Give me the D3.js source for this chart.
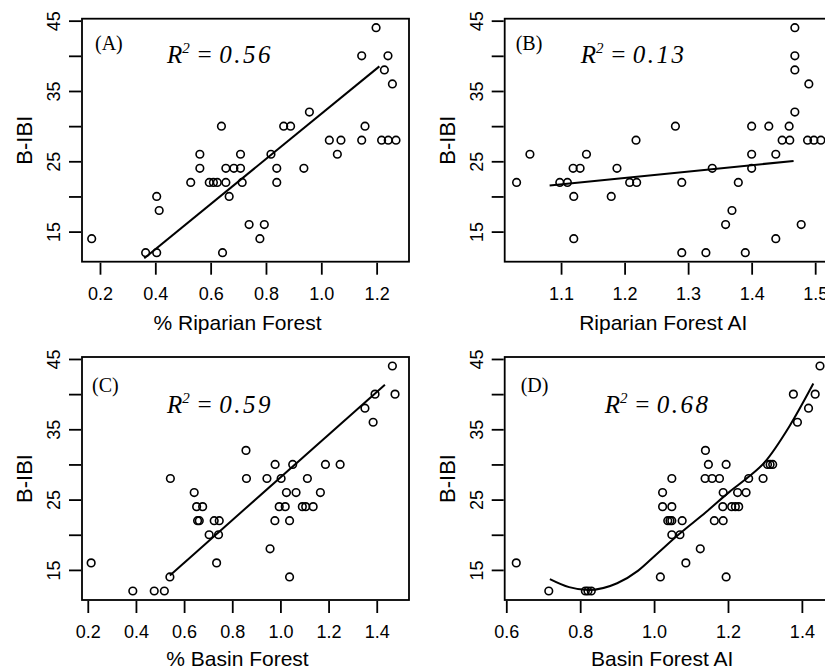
<!DOCTYPE html>
<html>
<head>
<meta charset="utf-8">
<script src="https://cdn.jsdelivr.net/npm/d3@7"></script>
<style>
  html, body { margin: 0; padding: 0; background: #fff; }
  svg { display: block; }
</style>
</head>
<body>
<svg id="chart" width="825" height="669"></svg>
<script>
// ---------------- DATA ----------------
const yTickValues = [15, 20, 25, 30, 35, 40, 45];
const yTickLabels = ["15", "", "25", "", "35", "", "45"];

// Panel A : % Riparian Forest
const xA = [0.17,0.365,0.405,0.405,0.414,0.528,0.561,0.561,0.595,0.61,0.624,0.639,0.643,0.655,0.655,0.667,0.684,0.708,0.708,0.714,0.739,0.778,0.794,0.818,0.839,0.839,0.864,0.889,0.937,0.957,1.029,1.058,1.071,1.146,1.146,1.158,1.198,1.218,1.228,1.241,1.242,1.257,1.27];
const yA = [14,12,12,20,18,22,26,24,22,22,22,30,12,24,22,20,24,26,24,22,16,14,16,26,24,22,30,30,24,32,28,26,28,40,28,30,44,28,38,40,28,36,28];
const fitAx = [0.36, 1.21];
const fitAy = [11.2, 38.5];
const ticksA = [0.2, 0.4, 0.6, 0.8, 1.0, 1.2];

// Panel B : Riparian Forest AI
const xB = [1.030,1.051,1.098,1.110,1.119,1.120,1.120,1.130,1.140,1.179,1.188,1.208,1.219,1.218,1.280,1.290,1.290,1.328,1.338,1.359,1.369,1.379,1.390,1.400,1.400,1.400,1.427,1.438,1.438,1.448,1.459,1.460,1.468,1.468,1.468,1.468,1.478,1.490,1.488,1.498,1.509];
const yB = [22,26,22,22,24,20,14,24,26,20,24,22,22,28,30,22,12,12,24,16,18,22,12,30,26,24,30,26,14,28,30,28,44,40,38,32,16,36,28,28,28];
const fitBx = [1.082, 1.466];
const fitBy = [21.55, 25.05];
const ticksB = [1.1, 1.2, 1.3, 1.4, 1.5];

// Panel C : % Basin Forest
const xC = [0.214,0.387,0.476,0.518,0.541,0.543,0.642,0.652,0.656,0.663,0.677,0.704,0.725,0.735,0.743,0.746,0.857,0.859,0.944,0.957,0.977,0.978,0.995,1.003,1.020,1.025,1.038,1.038,1.051,1.065,1.091,1.105,1.112,1.136,1.166,1.187,1.248,1.351,1.385,1.393,1.465,1.476];
const yC = [16,12,12,12,14,28,26,24,22,22,24,20,22,16,20,22,32,28,28,18,22,30,24,28,24,26,22,14,30,26,24,24,28,24,26,30,30,38,36,40,44,40];
const fitCx = [0.541, 1.434];
const fitCy = [14.2, 41.35];
const ticksC = [0.2, 0.4, 0.6, 0.8, 1.0, 1.2, 1.4];

// Panel D : Basin Forest AI
const xD = [0.627,0.715,0.814,0.821,0.830,1.017,1.023,1.023,1.037,1.043,1.048,1.048,1.048,1.048,1.070,1.076,1.086,1.125,1.139,1.147,1.138,1.157,1.177,1.163,1.187,1.187,1.186,1.195,1.195,1.210,1.220,1.226,1.229,1.249,1.256,1.295,1.307,1.314,1.321,1.377,1.388,1.418,1.436,1.449];
const yD = [16,12,12,12,12,14,26,24,22,22,28,24,22,20,20,22,16,18,32,30,28,28,28,22,22,26,24,30,14,24,24,26,24,26,28,28,30,30,30,40,36,38,40,44];
const fitDx = [0.718, 0.77, 0.822, 0.9, 0.957, 1.006, 1.068, 1.14, 1.204, 1.255, 1.299, 1.366, 1.431];
const fitDy = [13.7, 12.55, 12.14, 13.1, 14.9, 17.2, 20.1, 23.2, 26.1, 28.2, 30.3, 35.4, 41.5];
const ticksD = [0.6, 0.8, 1.0, 1.2, 1.4];

const xTitles = ["% Riparian Forest", "Riparian Forest AI", "% Basin Forest", "Basin Forest AI"];
const panelLabels = ["(A)", "(B)", "(C)", "(D)"];
const r2Values = ["0.56", "0.13", "0.59", "0.68"];
const yTitle = "B-IBI";

// ---------------- LAYOUT ----------------
const W = 327, H = 243;
const panels = [
  { left: 82,    top: 18.7, xDom: [0.135, 1.317],  xs: xA, ys: yA, fx: fitAx, fy: fitAy, ticks: ticksA, curve: false, lab: [13, 31], r2: [85, 44], titleOff: -8, titleY: 68 },
  { left: 504.7, top: 18.7, xDom: [1.0113, 1.526], xs: xB, ys: yB, fx: fitBx, fy: fitBy, ticks: ticksB, curve: false, lab: [11, 31], r2: [76, 44], titleOff: -5, titleY: 68 },
  { left: 82,    top: 357,  xDom: [0.176, 1.534],  xs: xC, ys: yC, fx: fitCx, fy: fitCy, ticks: ticksC, curve: false, lab: [10, 35], r2: [85, 56], titleOff: -8, titleY: 66 },
  { left: 504.7, top: 357,  xDom: [0.5957, 1.4807],xs: xD, ys: yD, fx: fitDx, fy: fitDy, ticks: ticksD, curve: true,  lab: [16, 35], r2: [100, 56], titleOff: -6, titleY: 66 }
];

const svg = d3.select("#chart");
svg.append("rect").attr("width", 825).attr("height", 669).attr("fill", "#fff");

const SANS = "'Liberation Sans', Arial, sans-serif";
const SERIF = "'Liberation Serif', 'Times New Roman', serif";

panels.forEach((p, i) => {
  const x = d3.scaleLinear().domain(p.xDom).range([p.left, p.left + W]);
  const y = d3.scaleLinear().domain([10.72, 45.28]).range([p.top + H, p.top]);
  const g = svg.append("g");

  // x axis
  const xa = g.append("g")
    .attr("transform", `translate(0,${p.top + H + 1})`)
    .call(d3.axisBottom(x).tickValues(p.ticks).tickSize(12).tickFormat(d3.format(".1f")));
  xa.select(".domain").remove();
  xa.selectAll("line").attr("stroke", "#000").attr("stroke-width", 1.8);
  xa.selectAll("text").attr("y", 37).attr("dy", 0)
    .attr("font-family", SANS).attr("font-size", 18).attr("fill", "#000");

  // y axis
  const ya = g.append("g")
    .attr("transform", `translate(${p.left - 1},0)`)
    .call(d3.axisLeft(y).tickValues(yTickValues).tickSize(12)
      .tickFormat((d, k) => yTickLabels[k]));
  ya.select(".domain").remove();
  ya.selectAll("line").attr("stroke", "#000").attr("stroke-width", 1.8);
  ya.selectAll("text").attr("x", 0).attr("y", 0).attr("dy", 0)
    .attr("transform", "translate(-21,0) rotate(-90)")
    .attr("text-anchor", "middle")
    .attr("font-family", SANS).attr("font-size", 18).attr("fill", "#000");

  // box
  g.append("rect").attr("x", p.left).attr("y", p.top).attr("width", W).attr("height", H)
    .attr("fill", "none").attr("stroke", "#000").attr("stroke-width", 1.8);

  // titles
  g.append("text").attr("x", p.left + W / 2 + p.titleOff).attr("y", p.top + H + p.titleY)
    .attr("text-anchor", "middle").attr("font-family", SANS).attr("font-size", 21)
    .text(xTitles[i]);
  g.append("text")
    .attr("transform", `translate(${p.left - 50},${p.top + H / 2}) rotate(-90)`)
    .attr("text-anchor", "middle").attr("font-family", SANS).attr("font-size", 22)
    .text(yTitle);

  // points
  const pts = p.xs.map((v, k) => [v, p.ys[k]]);
  g.append("g").selectAll("circle").data(pts).join("circle")
    .attr("cx", d => x(d[0])).attr("cy", d => y(d[1])).attr("r", 3.8)
    .attr("fill", "none").attr("stroke", "#000").attr("stroke-width", 1.6);

  // fit line
  const fit = p.fx.map((v, k) => [v, p.fy[k]]);
  const line = d3.line().x(d => x(d[0])).y(d => y(d[1]))
    .curve(p.curve ? d3.curveMonotoneX : d3.curveLinear);
  g.append("path").attr("d", line(fit)).attr("fill", "none")
    .attr("stroke", "#000").attr("stroke-width", 2);

  // panel label
  g.append("text").attr("x", p.left + p.lab[0]).attr("y", p.top + p.lab[1])
    .attr("font-family", SERIF).attr("font-size", 20).text(panelLabels[i]);

  // R^2
  const t = g.append("text").attr("x", p.left + p.r2[0]).attr("y", p.top + p.r2[1])
    .attr("font-family", SERIF).attr("font-size", 25).attr("font-style", "italic");
  t.append("tspan").text("R");
  t.append("tspan").attr("font-size", 15).attr("dy", -10).text("2");
  t.append("tspan").attr("dy", 10).text(" = ");
  t.append("tspan").attr("letter-spacing", 2.5).text(r2Values[i]);
});
</script>
</body>
</html>
